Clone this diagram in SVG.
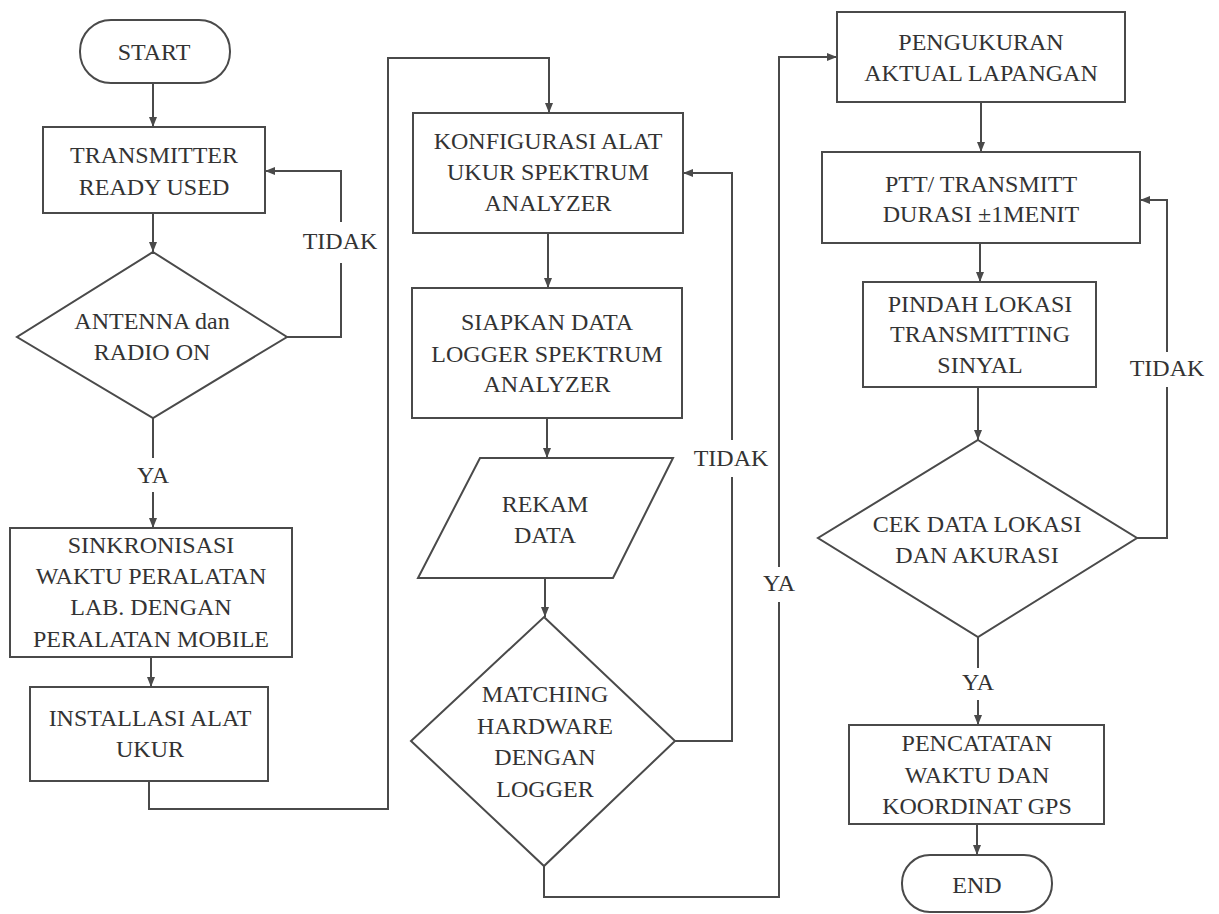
<svg xmlns="http://www.w3.org/2000/svg" width="1219" height="914" viewBox="0 0 1219 914" font-family="Liberation Serif, Times New Roman, serif" font-size="24" text-anchor="middle">
<style>
.s{fill:#fff;stroke:#4a4a4a;stroke-width:2}
.c{fill:none;stroke:#4a4a4a;stroke-width:2}
text{fill:#333}
</style>
<defs>
<marker id="a" markerUnits="userSpaceOnUse" markerWidth="10" markerHeight="10" viewBox="0 0 10 10" refX="10" refY="5" orient="auto">
<path d="M0,1 L10,5 L0,9 Z" fill="#4a4a4a"/>
</marker>
</defs>
<rect width="1219" height="914" fill="#fff"/>
<g id="connectors">
<path class="c" d="M153,83 V127" marker-end="url(#a)"/>
<path class="c" d="M153,213 V252" marker-end="url(#a)"/>
<path class="c" d="M287,337 H341 V263"/>
<path class="c" d="M341,222 V171 H265" marker-end="url(#a)"/>
<path class="c" d="M153,418 V458"/>
<path class="c" d="M153,492 V528" marker-end="url(#a)"/>
<path class="c" d="M151,657 V687" marker-end="url(#a)"/>
<path class="c" d="M149,781 V809 H388 V58 H549 V113" marker-end="url(#a)"/>
<path class="c" d="M548,233 V288" marker-end="url(#a)"/>
<path class="c" d="M547,418 V458" marker-end="url(#a)"/>
<path class="c" d="M545,578 V617" marker-end="url(#a)"/>
<path class="c" d="M675,741 H732 V477"/>
<path class="c" d="M732,440 V173 H683" marker-end="url(#a)"/>
<path class="c" d="M544,866 V897 H779 V602"/>
<path class="c" d="M779,567 V57 H837" marker-end="url(#a)"/>
<path class="c" d="M981,102 V152" marker-end="url(#a)"/>
<path class="c" d="M980,243 V282" marker-end="url(#a)"/>
<path class="c" d="M978,387 V440" marker-end="url(#a)"/>
<path class="c" d="M1137,538 H1167 V387"/>
<path class="c" d="M1167,352 V200 H1140" marker-end="url(#a)"/>
<path class="c" d="M978,637 V668"/>
<path class="c" d="M978,700 V725" marker-end="url(#a)"/>
<path class="c" d="M977,824 V855" marker-end="url(#a)"/>
<text x="340" y="249">TIDAK</text>
<text x="153" y="483">YA</text>
<text x="731" y="466">TIDAK</text>
<text x="779" y="591">YA</text>
<text x="1167" y="376">TIDAK</text>
<text x="978" y="690">YA</text>
</g>
<g id="start">
<rect class="s" x="80" y="20" width="150" height="63" rx="31"/>
<text x="154" y="60">START</text>
</g>
<g id="transmitter">
<rect class="s" x="43" y="127" width="222" height="86"/>
<text x="154" y="163">TRANSMITTER</text>
<text x="154" y="195">READY USED</text>
</g>
<g id="antenna">
<polygon class="s" points="153,252 287,337 153,418 17,337"/>
<text x="152" y="329">ANTENNA dan</text>
<text x="152" y="360">RADIO ON</text>
</g>
<g id="sinkronisasi">
<rect class="s" x="10" y="528" width="282" height="129"/>
<text x="151" y="553">SINKRONISASI</text>
<text x="151" y="584">WAKTU PERALATAN</text>
<text x="151" y="615">LAB. DENGAN</text>
<text x="151" y="647">PERALATAN MOBILE</text>
</g>
<g id="installasi">
<rect class="s" x="30" y="687" width="238" height="94"/>
<text x="150" y="726">INSTALLASI ALAT</text>
<text x="150" y="757">UKUR</text>
</g>
<g id="konfigurasi">
<rect class="s" x="413" y="113" width="270" height="120"/>
<text x="548" y="149">KONFIGURASI ALAT</text>
<text x="548" y="180">UKUR SPEKTRUM</text>
<text x="548" y="211">ANALYZER</text>
</g>
<g id="siapkan">
<rect class="s" x="412" y="288" width="270" height="130"/>
<text x="547" y="330">SIAPKAN DATA</text>
<text x="547" y="362">LOGGER SPEKTRUM</text>
<text x="547" y="392">ANALYZER</text>
</g>
<g id="rekam">
<polygon class="s" points="480,458 673,458 613,578 418,578"/>
<text x="545" y="512">REKAM</text>
<text x="545" y="543">DATA</text>
</g>
<g id="matching">
<polygon class="s" points="544,617 675,741 544,866 411,741"/>
<text x="545" y="702">MATCHING</text>
<text x="545" y="734">HARDWARE</text>
<text x="545" y="765">DENGAN</text>
<text x="545" y="797">LOGGER</text>
</g>
<g id="pengukuran">
<rect class="s" x="837" y="12" width="288" height="90"/>
<text x="981" y="50">PENGUKURAN</text>
<text x="981" y="81">AKTUAL LAPANGAN</text>
</g>
<g id="ptt">
<rect class="s" x="822" y="152" width="318" height="91"/>
<text x="981" y="192">PTT/ TRANSMITT</text>
<text x="981" y="222">DURASI ±1MENIT</text>
</g>
<g id="pindah">
<rect class="s" x="863" y="282" width="233" height="105"/>
<text x="980" y="312">PINDAH LOKASI</text>
<text x="980" y="342">TRANSMITTING</text>
<text x="980" y="373">SINYAL</text>
</g>
<g id="cek">
<polygon class="s" points="978,440 1137,538 978,637 818,538"/>
<text x="977" y="532">CEK DATA LOKASI</text>
<text x="977" y="563">DAN AKURASI</text>
</g>
<g id="pencatatan">
<rect class="s" x="849" y="725" width="255" height="99"/>
<text x="977" y="751">PENCATATAN</text>
<text x="977" y="783">WAKTU DAN</text>
<text x="977" y="814">KOORDINAT GPS</text>
</g>
<g id="end">
<rect class="s" x="902" y="855" width="150" height="57" rx="28"/>
<text x="977" y="893">END</text>
</g>
</svg>
